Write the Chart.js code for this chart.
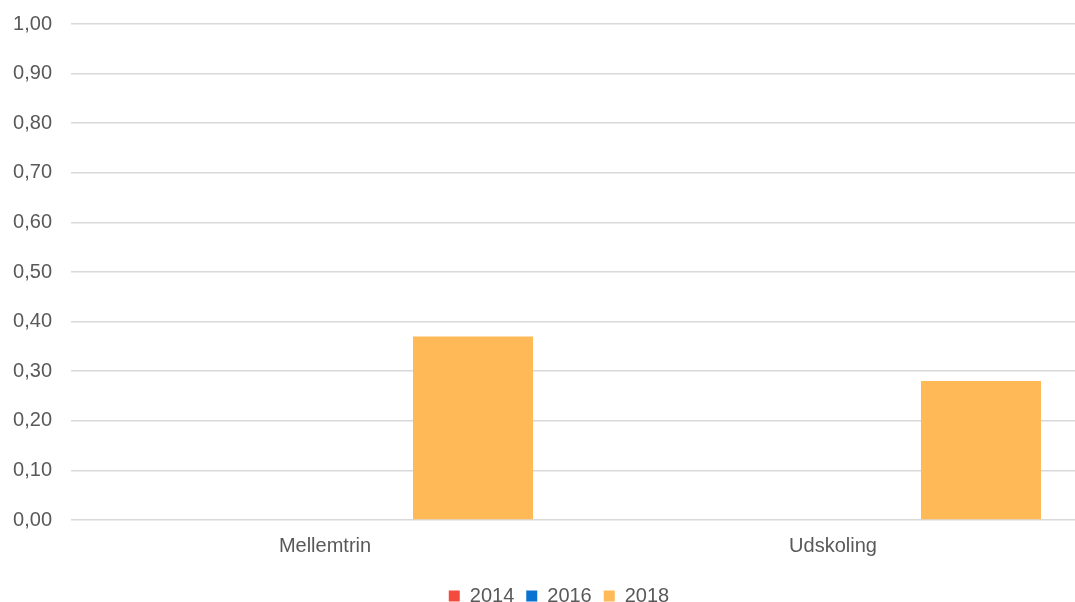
<!DOCTYPE html>
<html>
<head>
<meta charset="utf-8">
<script src="https://cdn.jsdelivr.net/npm/chart.js@4/dist/chart.umd.min.js"></script>
<style>
  html, body { margin: 0; padding: 0; background: #ffffff; overflow: hidden; width: 1075px; height: 602px; }
  #wrap { position: absolute; left: 0; top: 0; width: 1118px; height: 602px; }
  canvas { display: block; }
</style>
</head>
<body>
<div id="wrap"><canvas id="chart" width="1118" height="602"></canvas></div>
<script>
// Categories and series
const categories = ['Mellemtrin', 'Udskoling'];
const seriesNames = ['2014', '2016', '2018'];
const values2014 = [null, null];
const values2016 = [null, null];
const values2018 = [0.37, 0.28];
const seriesColors = ['#F54B3F', '#0A72D0', '#FFB957'];

// Value axis
const yMin = 0;
const yMax = 1;
const yStep = 0.1;
const yTickLabels = ['0,00', '0,10', '0,20', '0,30', '0,40', '0,50', '0,60', '0,70', '0,80', '0,90', '1,00'];

const textColor = '#595959';
const gridColor = '#D9D9D9';
const fontFamily = '"Liberation Sans", Arial, Helvetica, sans-serif';

const seriesValues = [values2014, values2016, values2018];

const datasets = seriesNames.map((name, i) => ({
  label: name,
  data: seriesValues[i],
  backgroundColor: seriesColors[i],
  borderWidth: 0,
  categoryPercentage: 0.874,
  barPercentage: 0.811
}));

new Chart(document.getElementById('chart'), {
  type: 'bar',
  data: { labels: categories, datasets: datasets },
  options: {
    responsive: false,
    animation: false,
    devicePixelRatio: 1,
    layout: { padding: { top: 24, right: 0, bottom: -14, left: 0 } },
    plugins: {
      tooltip: { enabled: false },
      legend: {
        position: 'bottom',
        labels: {
          color: textColor,
          font: { family: fontFamily, size: 20 },
          boxWidth: 11,
          boxHeight: 11,
          padding: 12
        }
      }
    },
    scales: {
      x: {
        grid: { display: false, drawTicks: false },
        border: { display: false },
        ticks: {
          color: textColor,
          font: { family: fontFamily, size: 20 },
          padding: 14
        },
        afterFit(scale) {
          const legendH = scale.chart.legend ? scale.chart.legend.height : 0;
          scale.height = 602 + 14 - legendH - 520;
        }
      },
      y: {
        min: yMin,
        max: yMax,
        grid: { color: gridColor, lineWidth: 1.5, drawTicks: false },
        border: { display: false },
        ticks: {
          stepSize: yStep,
          color: textColor,
          font: { family: fontFamily, size: 20 },
          padding: 19,
          callback: (value, index) => yTickLabels[index]
        },
        afterFit(scale) {
          scale.width = 71;
          scale.paddingTop = 0;
          scale.paddingBottom = 0;
        }
      },
      // empty margin on the right of the plot area
      yRight: {
        position: 'right',
        min: yMin,
        max: yMax,
        grid: { display: false, drawTicks: false },
        border: { display: false },
        ticks: { display: false },
        afterFit(scale) {
          scale.width = 31;
          scale.paddingTop = 0;
          scale.paddingBottom = 0;
        }
      }
    }
  }
});
</script>
</body>
</html>
